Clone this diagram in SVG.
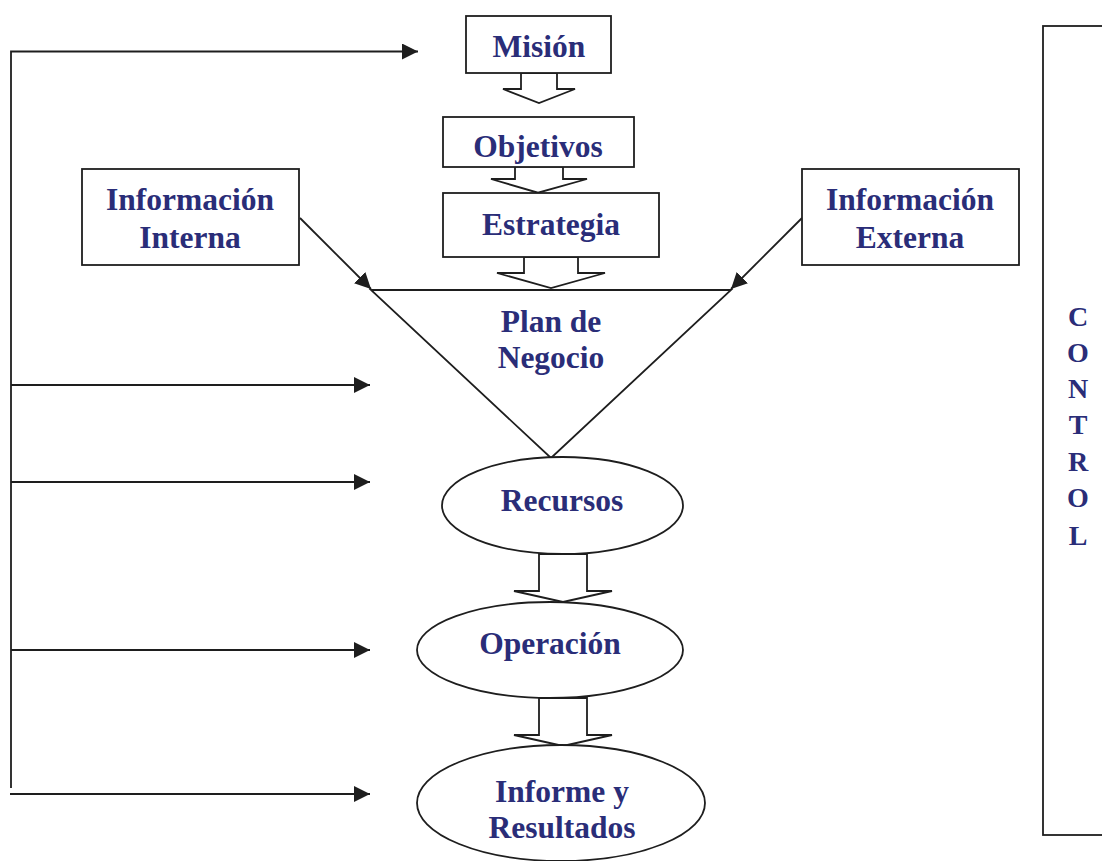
<svg xmlns="http://www.w3.org/2000/svg" width="1102" height="861" viewBox="0 0 1102 861">
<defs>
<marker id="ah" markerUnits="userSpaceOnUse" markerWidth="16" markerHeight="16" viewBox="0 0 16 16" refX="16" refY="8" orient="auto">
<path d="M0,0 L16,8 L0,16 Z" fill="#1e1e1e"/>
</marker>
<style>
.s{fill:#fff;stroke:#1e1e1e;stroke-width:1.8}
.c{fill:none;stroke:#1e1e1e;stroke-width:1.8}
.t{font-family:"Liberation Serif","Times New Roman",serif;font-weight:bold;font-size:31.5px;fill:#2a2d78;text-anchor:middle}
.k{font-family:"Liberation Serif","Times New Roman",serif;font-weight:bold;font-size:28px;fill:#2a2d78;text-anchor:middle}
</style>
</defs>
<rect width="1102" height="861" fill="#fff"/>
<g id="connectors">
<polyline class="c" points="11,788 11,51.5 418,51.5" marker-end="url(#ah)"/>
<line class="c" x1="11" y1="385" x2="370" y2="385" marker-end="url(#ah)"/>
<line class="c" x1="11" y1="482" x2="370" y2="482" marker-end="url(#ah)"/>
<line class="c" x1="11" y1="650" x2="370" y2="650" marker-end="url(#ah)"/>
<line class="c" x1="10" y1="794" x2="370" y2="794" marker-end="url(#ah)"/>
<line class="c" x1="300" y1="218" x2="371" y2="289" marker-end="url(#ah)"/>
<line class="c" x1="802" y1="218" x2="731" y2="289" marker-end="url(#ah)"/>
<polygon class="s" points="521,73 557,73 557,89 575,89 539,103 503,89 521,89"/>
<polygon class="s" points="515,166.7 563,166.7 563,179 587,179 538,192.7 491,179 515,179"/>
<polygon class="s" points="524,257 578,257 578,273 605,273 551,288 497,273 524,273"/>
<polygon class="s" points="539,554 587,554 587,591 612,591 563,602 514,591 539,591"/>
<polygon class="s" points="539,698 587,698 587,735 612,735 563,746 514,735 539,735"/>
</g>
<g id="mision">
<rect class="s" x="466" y="16" width="145" height="57"/>
<text class="t" x="539" y="57">Misión</text>
</g>
<g id="objetivos">
<rect class="s" x="443" y="117" width="191" height="50"/>
<text class="t" x="538" y="157">Objetivos</text>
</g>
<g id="estrategia">
<rect class="s" x="443" y="193" width="216" height="64"/>
<text class="t" x="551" y="235">Estrategia</text>
</g>
<g id="info-interna">
<rect class="s" x="82" y="169" width="217" height="96"/>
<text class="t" x="190" y="210">Información</text>
<text class="t" x="190" y="248">Interna</text>
</g>
<g id="info-externa">
<rect class="s" x="802" y="169" width="217" height="96"/>
<text class="t" x="910" y="210">Información</text>
<text class="t" x="910" y="248">Externa</text>
</g>
<g id="plan">
<polygon class="s" points="371,290 731,290 551,458"/>
<text class="t" x="551" y="332">Plan de</text>
<text class="t" x="551" y="368">Negocio</text>
</g>
<g id="recursos">
<ellipse class="s" cx="562.5" cy="505.5" rx="120.5" ry="48.5"/>
<text class="t" x="562" y="511">Recursos</text>
</g>
<g id="operacion">
<ellipse class="s" cx="550" cy="650" rx="133" ry="48"/>
<text class="t" x="550" y="654">Operación</text>
</g>
<g id="informe">
<ellipse class="s" cx="561" cy="803" rx="144" ry="58"/>
<text class="t" x="562" y="802">Informe y</text>
<text class="t" x="562" y="838">Resultados</text>
</g>
<g id="control">
<rect class="s" x="1043" y="26" width="70" height="809"/>
<text class="k" x="1078" y="326">C</text>
<text class="k" x="1078" y="362">O</text>
<text class="k" x="1078" y="398">N</text>
<text class="k" x="1078" y="434">T</text>
<text class="k" x="1078" y="471">R</text>
<text class="k" x="1078" y="507">O</text>
<text class="k" x="1078" y="545">L</text>
</g>
</svg>
